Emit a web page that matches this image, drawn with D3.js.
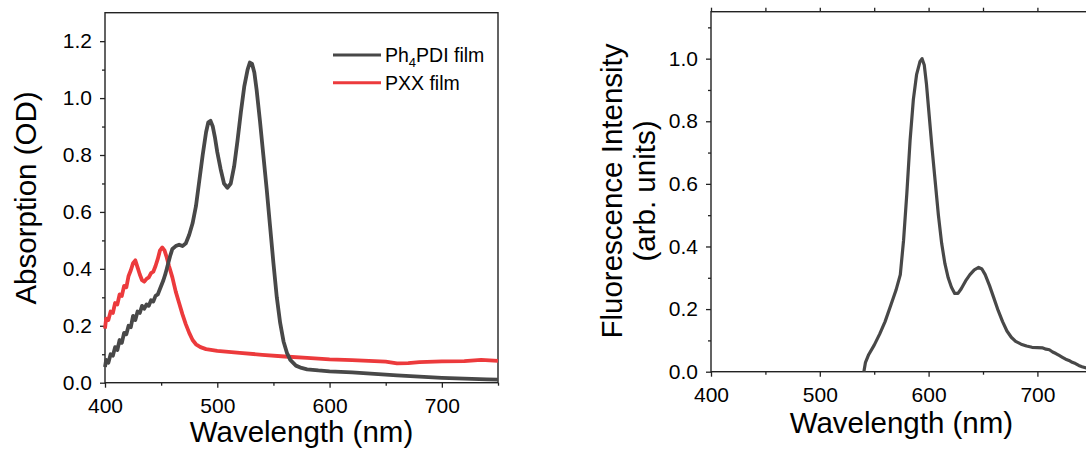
<!DOCTYPE html>
<html>
<head>
<meta charset="utf-8">
<script src="https://cdn.jsdelivr.net/npm/d3@7"></script>
<style>
  body { margin: 0; background: #fff; }
  svg { display: block; font-family: "Liberation Sans", Arial, sans-serif; }
</style>
</head>
<body>
<svg id="chart" width="1086" height="449"></svg>
<script>
// absorption, Ph4PDI film
var pdiWl = [400,401,403,405,407,409,411,413,415,417,419,421,423,425,427,429,431,433,435,437,439,441,443,445,447,449,452,454,456,458,460,463,466,469,472,475,478,481,484,487,490,492,494,496,498,500,503,506,509,512,515,518,521,524,527,529,531,533,535,538,541,544,547,550,553,556,559,562,565,570,575,580,590,600,620,640,660,680,700,720,740,750];
var pdiAbs = [0.055,0.08,0.07,0.10,0.095,0.125,0.115,0.15,0.14,0.175,0.17,0.2,0.195,0.235,0.22,0.25,0.245,0.27,0.26,0.275,0.27,0.29,0.285,0.305,0.31,0.33,0.36,0.385,0.415,0.445,0.47,0.48,0.485,0.48,0.49,0.52,0.56,0.62,0.71,0.80,0.88,0.915,0.92,0.90,0.86,0.81,0.75,0.70,0.685,0.70,0.76,0.85,0.95,1.04,1.10,1.125,1.12,1.09,1.03,0.92,0.80,0.68,0.55,0.42,0.30,0.21,0.145,0.105,0.08,0.06,0.052,0.047,0.043,0.040,0.036,0.031,0.026,0.021,0.017,0.014,0.012,0.011];

// absorption, PXX film
var pxxWl = [400,401,403,405,407,409,411,413,415,417,419,421,423,425,427,429,431,433,435,437,439,441,443,445,447,449,451,453,455,457,460,463,466,469,472,475,478,481,485,490,500,520,540,560,580,600,620,640,650,660,670,680,700,720,735,750];
var pxxAbs = [0.19,0.225,0.22,0.25,0.245,0.28,0.275,0.31,0.305,0.34,0.335,0.375,0.395,0.42,0.43,0.405,0.38,0.36,0.355,0.365,0.37,0.385,0.39,0.41,0.435,0.465,0.475,0.465,0.44,0.41,0.37,0.32,0.28,0.24,0.205,0.175,0.15,0.135,0.125,0.118,0.112,0.105,0.098,0.092,0.087,0.082,0.079,0.076,0.074,0.068,0.069,0.072,0.075,0.076,0.080,0.077];

// fluorescence, Ph4PDI film
var flWl = [540.5,542,545,550,555,560,565,570,574,577,580,583,586,589,592,594,596,598,600,603,606,609,612,615,618,621,624,627,630,634,638,642,646,649,652,656,660,664,668,672,676,680,685,690,695,700,705,708,711,714,717,720,723,726,729,732,735,738,741,745,750];
var flInt = [0.0,0.03,0.055,0.085,0.12,0.16,0.21,0.26,0.31,0.42,0.57,0.74,0.87,0.95,0.99,1.0,0.98,0.92,0.84,0.72,0.61,0.50,0.41,0.345,0.30,0.27,0.25,0.25,0.265,0.29,0.31,0.325,0.333,0.328,0.31,0.275,0.235,0.195,0.16,0.13,0.11,0.097,0.088,0.082,0.078,0.077,0.076,0.072,0.07,0.063,0.058,0.052,0.046,0.040,0.036,0.030,0.026,0.020,0.016,0.012,0.008];

var wlMajor = [400, 500, 600, 700];
var wlMinor = [450, 550, 650, 750];
var absMajor = [0, 0.2, 0.4, 0.6, 0.8, 1.0, 1.2];
var absMinor = [0.1, 0.3, 0.5, 0.7, 0.9, 1.1];
var flMajor = [0, 0.2, 0.4, 0.6, 0.8, 1.0];
var flMinor = [0.1, 0.3, 0.5, 0.7, 0.9, 1.1];

var legendNames = ["Ph4PDI film", "PXX film"];
var gray = "#484848", red = "#ec3a3c", axisColor = "#222";

var svg = d3.select("#chart");

function styleAxis(g) {
	g.select(".domain").remove();
	g.selectAll("line").attr("stroke", axisColor).attr("stroke-width", 1.3);
	g.selectAll("text").attr("fill", "#000").attr("font-size", "21px").attr("font-family", "Liberation Sans, Arial, sans-serif");
}

function panel(left, right, top, bottom, yMax, yMajor, yMinor, withTop) {
	var x = d3.scaleLinear().domain([400, 750]).range([left, right]);
	var y = d3.scaleLinear().domain([0, yMax]).range([bottom, top]);

	svg.append("g").attr("transform", "translate(0," + bottom + ")")
		.call(d3.axisBottom(x).tickValues(wlMajor).tickSize(5).tickPadding(10).tickFormat(d3.format("d")))
		.call(styleAxis);
	svg.append("g").attr("transform", "translate(0," + bottom + ")")
		.call(d3.axisBottom(x).tickValues(wlMinor).tickSize(3).tickFormat(""))
		.call(styleAxis);
	svg.append("g").attr("transform", "translate(" + left + ",0)")
		.call(d3.axisLeft(y).tickValues(yMajor).tickSize(5).tickPadding(8).tickFormat(d3.format(".1f")))
		.call(styleAxis);
	svg.append("g").attr("transform", "translate(" + left + ",0)")
		.call(d3.axisLeft(y).tickValues(yMinor).tickSize(3).tickFormat(""))
		.call(styleAxis);
	if (withTop) {
		svg.append("g").attr("transform", "translate(0," + top + ")")
			.call(d3.axisTop(x).tickValues(wlMajor.concat(wlMinor)).tickSize(4).tickFormat(""))
			.call(styleAxis);
	}

	// frame
	svg.append("rect")
		.attr("x", left).attr("y", top)
		.attr("width", right - left).attr("height", bottom - top)
		.attr("fill", "none").attr("stroke", axisColor).attr("stroke-width", 1.4);

	svg.append("text")
		.attr("x", (left + right) / 2).attr("y", bottom + (withTop ? 61 : 59))
		.attr("text-anchor", "middle").attr("font-size", "29.5px")
		.text("Wavelength (nm)");
	return { x: x, y: y };
}

function curve(p, xs, ys, color, w) {
	var pts = d3.zip(xs, ys);
	svg.append("path")
		.datum(pts)
		.attr("fill", "none")
		.attr("stroke", color)
		.attr("stroke-width", w)
		.attr("stroke-linejoin", "round")
		.attr("d", d3.line().x(d => p.x(d[0])).y(d => p.y(d[1])));
}

// left: absorption
var pA = panel(105, 498, 12.7, 382.7, 1.3, absMajor, absMinor, false);
curve(pA, pxxWl, pxxAbs, red, 3.8);
curve(pA, pdiWl, pdiAbs, gray, 3.8);

svg.append("text")
	.attr("transform", "translate(36,198) rotate(-90)")
	.attr("text-anchor", "middle").attr("font-size", "29.5px")
	.text("Absorption (OD)");

// legend
var leg = svg.append("g");
[gray, red].forEach(function (c, i) {
	leg.append("line")
		.attr("x1", 333).attr("x2", 381)
		.attr("y1", 55 + i * 27.7).attr("y2", 55 + i * 27.7)
		.attr("stroke", c).attr("stroke-width", 3);
});
var t1 = leg.append("text").attr("x", 385).attr("y", 62).attr("font-size", "19.5px");
t1.append("tspan").text("Ph");
t1.append("tspan").attr("font-size", "13px").attr("dy", 5).text("4");
t1.append("tspan").attr("dy", -5).text("PDI film");
leg.append("text").attr("x", 385).attr("y", 89.7).attr("font-size", "19.5px").text(legendNames[1]);

// right: fluorescence
var pF = panel(711, 1091.8, 11.7, 371.7, 1.15, flMajor, flMinor, true);
curve(pF, flWl, flInt, gray, 3.2);

var yt = svg.append("text")
	.attr("transform", "translate(622,191) rotate(-90)")
	.attr("text-anchor", "middle").attr("font-size", "29.5px");
yt.append("tspan").attr("x", 0).attr("y", 0).text("Fluorescence Intensity");
yt.append("tspan").attr("x", 0).attr("y", 33).text("(arb. units)");
</script>
</body>
</html>
